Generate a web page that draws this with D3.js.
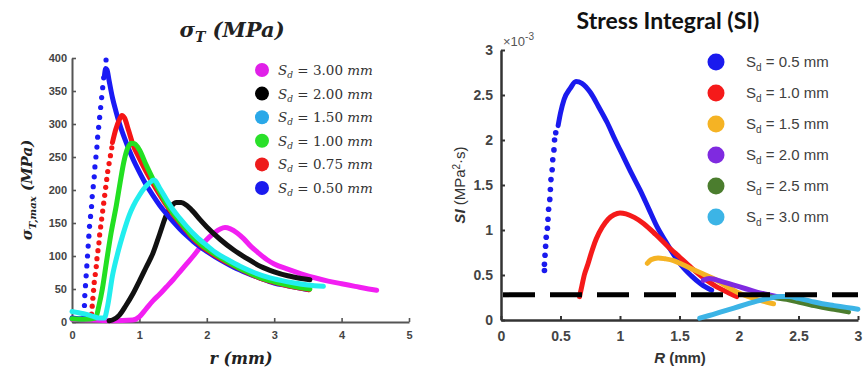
<!DOCTYPE html>
<html>
<head>
<meta charset="utf-8">
<script src="https://cdn.jsdelivr.net/npm/d3@7"></script>
<style>
  body { margin: 0; background: #fff; }
  svg { display: block; }
</style>
</head>
<body>
<svg id="chart" width="865" height="371"></svg>
<script>
// ---------- Left panel: peak tangential stress vs. radius ----------
const leftLabels = ["3.00", "2.00", "1.50", "1.00", "0.75", "0.50"];
const leftXTicks = [0, 1, 2, 3, 4, 5];
const leftYTicks = [0, 50, 100, 150, 200, 250, 300, 350, 400];

// [r (mm), sigma (MPa)]
const sd300 = [[0,4],[0.3,3],[0.6,2],[0.9,3],[1.0,8],[1.1,20],[1.2,32],[1.3,42],[1.4,53],[1.5,64],[1.6,76],[1.7,88],[1.8,100],[1.9,113],[2.0,125],[2.1,134],[2.2,141],[2.27,143],[2.35,141],[2.45,135],[2.55,126],[2.65,115],[2.75,106],[2.9,94],[3.0,88],[3.2,80],[3.4,73],[3.6,67],[3.8,62],[4.0,58],[4.2,54],[4.4,50],[4.52,48]];
const sd200 = [[0.55,2],[0.6,3],[0.7,10],[0.8,25],[0.9,42],[1.0,62],[1.1,83],[1.2,104],[1.3,133],[1.4,162],[1.48,176],[1.55,181],[1.62,181],[1.7,177],[1.8,167],[1.9,155],[2.0,144],[2.2,125],[2.4,109],[2.6,96],[2.8,84],[3.0,76],[3.2,70],[3.4,66],[3.53,64]];
const sd150 = [[0,16],[0.1,14],[0.2,12],[0.3,9],[0.4,6],[0.48,6],[0.53,25],[0.6,70],[0.68,105],[0.76,134],[0.85,162],[0.91,176],[1.0,192],[1.06,201],[1.14,210],[1.22,215],[1.3,203],[1.4,186],[1.5,170],[1.6,157],[1.7,145],[1.85,129],[2.0,116],[2.15,104],[2.3,95],[2.5,84],[2.7,75],[2.9,68],[3.1,63],[3.3,59],[3.5,56],[3.73,54]];
const sd100 = [[0,5],[0.2,4],[0.35,6],[0.4,25],[0.45,50],[0.51,90],[0.58,135],[0.66,178],[0.72,215],[0.77,243],[0.82,262],[0.88,271],[0.93,270],[1.0,261],[1.1,238],[1.2,217],[1.3,198],[1.4,180],[1.5,165],[1.6,152],[1.7,140],[1.8,128],[1.9,119],[2.0,111],[2.2,98],[2.4,86],[2.6,76],[2.8,67],[3.0,61],[3.2,56],[3.4,52],[3.53,50]];
const sd075Rise = [[0.29,12],[0.30,24],[0.31,36],[0.32,48],[0.33,60],[0.345,72],[0.36,84],[0.37,96],[0.385,108],[0.40,120],[0.41,132],[0.425,144],[0.44,156],[0.455,168],[0.47,180],[0.485,192],[0.50,204],[0.515,216],[0.53,228],[0.55,240],[0.57,252],[0.59,264]];
const sd075 = [[0.6,272],[0.65,292],[0.7,306],[0.74,313],[0.78,309],[0.84,290],[0.9,270],[1.0,248],[1.1,228],[1.2,210],[1.3,193],[1.4,177],[1.5,163],[1.6,150],[1.7,138],[1.8,126],[1.9,117],[2.0,109],[2.2,96],[2.4,85],[2.6,75],[2.8,66],[3.0,60],[3.2,55],[3.4,51],[3.52,49]];
const sd050Base = [[0,6],[0.1,5],[0.18,5]];
const sd050Rise = [[0.18,10],[0.185,25],[0.19,40],[0.20,55],[0.21,70],[0.22,85],[0.23,100],[0.24,115],[0.25,130],[0.26,145],[0.275,160],[0.29,175],[0.30,190],[0.315,205],[0.33,220],[0.34,235],[0.355,250],[0.37,265],[0.38,280],[0.395,295],[0.41,310],[0.425,325],[0.44,340],[0.455,355],[0.47,370],[0.505,397]];
const sd050 = [[0.48,372],[0.5,384],[0.52,382],[0.55,366],[0.6,340],[0.65,320],[0.7,302],[0.8,273],[0.9,248],[1.0,227],[1.1,208],[1.2,192],[1.3,177],[1.4,164],[1.5,152],[1.6,141],[1.7,131],[1.8,122],[1.9,114],[2.0,107],[2.2,94],[2.4,83],[2.6,74],[2.8,66],[3.0,59],[3.2,55],[3.4,51],[3.5,49]];

// ---------- Right panel: stress integral vs. radius ----------
const rightLabels = ["0.5", "1.0", "1.5", "2.0", "2.5", "3.0"];
const rightXTicks = [0, 0.5, 1, 1.5, 2, 2.5, 3];
const rightYTicks = [0, 0.5, 1, 1.5, 2, 2.5, 3];
const siThreshold = 0.28;

// [R (mm), SI (x1e-3 MPa^2 s)]
const si05Rise = [[0.365,0.55],[0.365,0.62],[0.37,0.72],[0.375,0.82],[0.38,0.92],[0.39,1.02],[0.395,1.12],[0.40,1.23],[0.41,1.34],[0.415,1.45],[0.42,1.56],[0.43,1.67],[0.435,1.78],[0.445,1.89],[0.45,2.0],[0.46,2.08]];
const si05 = [[0.48,2.16],[0.50,2.3],[0.53,2.45],[0.58,2.57],[0.63,2.65],[0.68,2.63],[0.75,2.53],[0.82,2.37],[0.89,2.2],[0.96,2.0],[1.03,1.81],[1.10,1.62],[1.17,1.44],[1.24,1.24],[1.31,1.04],[1.38,0.88],[1.45,0.73],[1.52,0.6],[1.6,0.49],[1.68,0.4],[1.77,0.33]];
const si10 = [[0.66,0.26],[0.68,0.38],[0.70,0.50],[0.73,0.62],[0.76,0.75],[0.80,0.90],[0.85,1.03],[0.90,1.12],[0.95,1.17],[1.0,1.19],[1.05,1.18],[1.12,1.14],[1.2,1.07],[1.3,0.95],[1.4,0.82],[1.5,0.70],[1.6,0.58],[1.7,0.47],[1.8,0.38],[1.9,0.31],[1.98,0.26]];
const si15 = [[1.23,0.63],[1.26,0.67],[1.32,0.69],[1.38,0.68],[1.45,0.66],[1.52,0.62],[1.6,0.57],[1.7,0.51],[1.8,0.45],[1.9,0.37],[2.0,0.30],[2.1,0.25],[2.2,0.21],[2.29,0.18]];
const si20 = [[1.70,0.44],[1.75,0.46],[1.85,0.43],[1.95,0.39],[2.05,0.35],[2.15,0.31],[2.25,0.28],[2.35,0.25],[2.45,0.23]];
const si25 = [[2.2,0.28],[2.3,0.25],[2.4,0.23],[2.5,0.2],[2.6,0.17],[2.7,0.14],[2.8,0.12],[2.92,0.09]];
const si30 = [[1.67,0.02],[1.75,0.05],[1.85,0.09],[1.95,0.13],[2.05,0.17],[2.15,0.21],[2.25,0.24],[2.35,0.26],[2.42,0.26],[2.5,0.24],[2.6,0.21],[2.7,0.18],[2.8,0.16],[2.9,0.14],[3.0,0.12]];

// ---------- drawing ----------
const svg = d3.select("#chart");
const serif = "'DejaVu Serif', 'Liberation Serif', serif";
const sans = "'Liberation Sans', Arial, sans-serif";

const xL = d3.scaleLinear().domain([0, 5]).range([72, 409]);
const yL = d3.scaleLinear().domain([0, 400]).range([322, 58]);
const xR = d3.scaleLinear().domain([0, 3]).range([501, 858]);
const yR = d3.scaleLinear().domain([0, 3]).range([320, 50]);

function styleAxis(g, color, width, fontSize) {
  g.select(".domain").attr("stroke", color).attr("stroke-width", width);
  g.selectAll(".tick line").attr("stroke", color).attr("stroke-width", width * 0.8);
  g.selectAll(".tick text").attr("fill", "#444").attr("font-family", sans)
    .attr("font-weight", "bold").attr("font-size", fontSize);
}

// left axes
const gLx = svg.append("g").attr("transform", `translate(0,${yL(0)})`)
  .call(d3.axisBottom(xL).tickValues(leftXTicks).tickFormat(d3.format("d"))
    .tickSizeInner(-4).tickSizeOuter(0).tickPadding(9));
styleAxis(gLx, "#555", 2, 11);
const gLy = svg.append("g").attr("transform", `translate(${xL(0)},0)`)
  .call(d3.axisLeft(yL).tickValues(leftYTicks).tickFormat(d3.format("d"))
    .tickSizeInner(-4).tickSizeOuter(0).tickPadding(5));
styleAxis(gLy, "#555", 2, 11);

// right axes
const gRx = svg.append("g").attr("transform", `translate(0,${yR(0)})`)
  .call(d3.axisBottom(xR).tickValues(rightXTicks).tickFormat(d => d3.format("")(d))
    .tickSizeInner(-4).tickSizeOuter(0).tickPadding(11));
styleAxis(gRx, "#333", 2.5, 14);
const gRy = svg.append("g").attr("transform", `translate(${xR(0)},0)`)
  .call(d3.axisLeft(yR).tickValues(rightYTicks).tickFormat(d => d3.format("")(d))
    .tickSizeInner(-4).tickSizeOuter(0).tickPadding(8));
styleAxis(gRy, "#333", 2.5, 14);

// left curves
const lineL = d3.line().x(d => xL(d[0])).y(d => yL(d[1])).curve(d3.curveMonotoneX);
const lineR = d3.line().x(d => xR(d[0])).y(d => yR(d[1])).curve(d3.curveMonotoneX);

const leftCurveColors = { m: "#f21ff2", k: "#111111", c: "#22eeee", g: "#22e022", r: "#f51515", b: "#1a1af5" };
const plotL = svg.append("g");
function thickL(data, color) {
  plotL.append("path").datum(data).attr("d", lineL).attr("fill", "none")
    .attr("stroke", color).attr("stroke-width", 5).attr("stroke-linecap", "round").attr("stroke-linejoin", "round");
}
function dotsL(data, color) {
  plotL.append("g").selectAll("circle").data(data).join("circle")
    .attr("cx", d => xL(d[0])).attr("cy", d => yL(d[1])).attr("r", 2.6).attr("fill", color);
}
thickL(sd300, leftCurveColors.m);
thickL(sd200, leftCurveColors.k);
thickL(sd050Base, leftCurveColors.b);
dotsL(sd050Rise, leftCurveColors.b);
thickL(sd050, leftCurveColors.b);
dotsL(sd075Rise, leftCurveColors.r);
thickL(sd075, leftCurveColors.r);
thickL(sd100, leftCurveColors.g);
thickL(sd150, leftCurveColors.c);

// right curves
const plotR = svg.append("g");
const rightColors = ["#1a1aee", "#f51a1a", "#f5b324", "#7f2ae0", "#4b7d2e", "#3cb4e6"];
function thickR(data, color) {
  plotR.append("path").datum(data).attr("d", lineR).attr("fill", "none")
    .attr("stroke", color).attr("stroke-width", 5).attr("stroke-linecap", "round").attr("stroke-linejoin", "round");
}
plotR.append("g").selectAll("circle").data(si05Rise).join("circle")
  .attr("cx", d => xR(d[0])).attr("cy", d => yR(d[1])).attr("r", 2.8).attr("fill", rightColors[0]);
thickR(si05, rightColors[0]);
thickR(si10, rightColors[1]);
thickR(si15, rightColors[2]);
thickR(si20, rightColors[3]);
thickR(si25, rightColors[4]);
thickR(si30, rightColors[5]);

// threshold line
svg.append("line")
  .attr("x1", xR(0) + 2).attr("x2", xR(3)).attr("y1", yR(siThreshold)).attr("y2", yR(siThreshold))
  .attr("stroke", "#000").attr("stroke-width", 5).attr("stroke-dasharray", "32 15");

// ---------- titles and axis labels ----------
const tL = svg.append("text").attr("x", 232).attr("y", 37).attr("text-anchor", "middle")
  .attr("font-family", serif).attr("font-weight", "bold").attr("font-style", "italic")
  .attr("font-size", 21).attr("fill", "#222");
tL.append("tspan").text("σ");
tL.append("tspan").attr("dy", 5).attr("font-size", 14).text("T");
tL.append("tspan").attr("dy", -5).text(" (MPa)");

const yLab = svg.append("text").attr("transform", "translate(32,190) rotate(-90)").attr("text-anchor", "middle")
  .attr("font-family", serif).attr("font-weight", "bold").attr("font-style", "italic")
  .attr("font-size", 15).attr("fill", "#222");
yLab.append("tspan").text("σ");
yLab.append("tspan").attr("dy", 4).attr("font-size", 10).text("T,max");
yLab.append("tspan").attr("dy", -4).text(" (MPa)");

svg.append("text").attr("x", 241).attr("y", 364).attr("text-anchor", "middle")
  .attr("font-family", serif).attr("font-weight", "bold").attr("font-style", "italic")
  .attr("font-size", 16).attr("fill", "#222").text("r (mm)");

svg.append("text").attr("x", 668).attr("y", 29).attr("text-anchor", "middle")
  .attr("font-family", "Lato, 'Open Sans', sans-serif").attr("font-weight", "bold")
  .attr("font-size", 23).attr("fill", "#111").text("Stress Integral (SI)");

const exp = svg.append("text").attr("x", 503).attr("y", 46)
  .attr("font-family", sans).attr("font-size", 13).attr("fill", "#555");
exp.append("tspan").text("×10");
exp.append("tspan").attr("dy", -6).attr("font-size", 10).text("-3");

const yLabR = svg.append("text").attr("transform", "translate(465,185) rotate(-90)").attr("text-anchor", "middle")
  .attr("font-family", sans).attr("font-size", 15).attr("fill", "#333");
yLabR.append("tspan").attr("font-style", "italic").attr("font-weight", "bold").text("SI");
yLabR.append("tspan").text(" (MPa");
yLabR.append("tspan").attr("dy", -5).attr("font-size", 10).text("2");
yLabR.append("tspan").attr("dy", 5).text("·s)");

const xLabR = svg.append("text").attr("x", 680).attr("y", 363).attr("text-anchor", "middle")
  .attr("font-family", sans).attr("font-size", 15).attr("font-weight", "bold").attr("fill", "#333");
xLabR.append("tspan").attr("font-style", "italic").text("R");
xLabR.append("tspan").text(" (mm)");

// ---------- legends ----------
const leftLegendColors = ["#e020e8", "#000000", "#2aa8e8", "#2ae02a", "#ee1c1c", "#1a1aee"];
const legL = svg.append("g");
leftLabels.forEach((lab, i) => {
  const y = 70 + i * 23.6;
  legL.append("circle").attr("cx", 262).attr("cy", y).attr("r", 7).attr("fill", leftLegendColors[i]);
  const t = legL.append("text").attr("x", 278).attr("y", y + 5)
    .attr("font-family", serif).attr("font-size", 13.5).attr("fill", "#333");
  t.append("tspan").attr("font-style", "italic").text("S");
  t.append("tspan").attr("font-style", "italic").attr("font-size", 9).attr("dy", 3).text("d");
  t.append("tspan").attr("dy", -3).text(" = " + lab + " ");
  t.append("tspan").attr("font-style", "italic").text("mm");
});

const legR = svg.append("g");
rightLabels.forEach((lab, i) => {
  const y = 62 + i * 31;
  legR.append("circle").attr("cx", 716).attr("cy", y).attr("r", 8.5).attr("fill", rightColors[i]);
  const t = legR.append("text").attr("x", 746).attr("y", y + 5)
    .attr("font-family", sans).attr("font-size", 15).attr("fill", "#404040");
  t.append("tspan").text("S");
  t.append("tspan").attr("font-size", 10).attr("dy", 4).text("d");
  t.append("tspan").attr("dy", -4).text(" = " + lab + " mm");
});
</script>
</body>
</html>
